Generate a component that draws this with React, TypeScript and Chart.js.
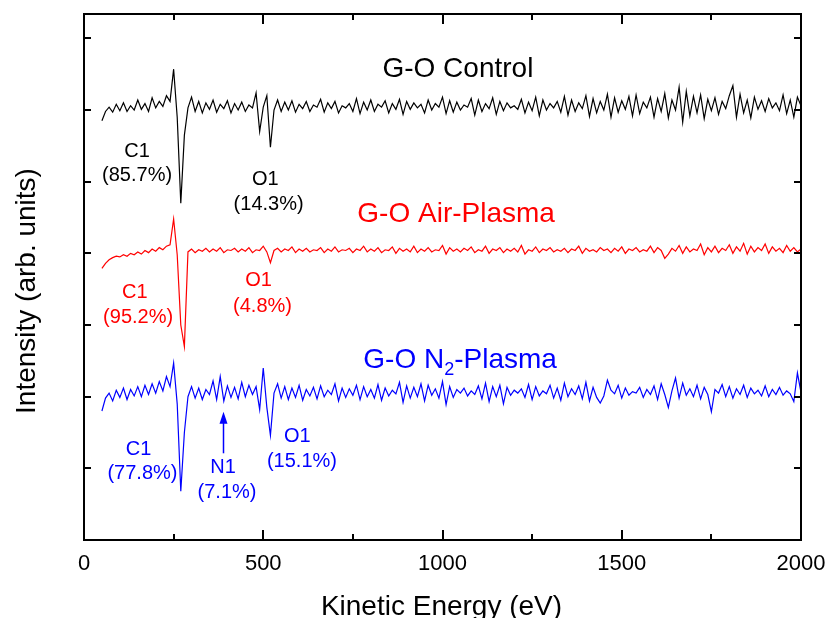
import React, { useEffect, useRef } from "react";
import { Chart, registerables } from "chart.js";

Chart.register(...registerables);

// Kinetic energy grid (eV): 50 .. 2000, 10 eV step
const energyStart = 50;
const energyStep = 10;

// G-O Control (offset baseline ~600)
const controlValues: number[] = [
  585, 598, 604, 597, 608, 599, 610, 598, 606, 600,
  614, 601, 609, 598, 617, 603, 612, 605, 620, 612,
  657, 590, 470, 565, 603, 618, 598, 612, 596, 610,
  601, 614, 597, 608, 602, 613, 596, 609, 600, 611,
  598, 607, 603, 624, 570, 604, 620, 548, 600, 614,
  598, 611, 600, 613, 597, 608, 602, 612, 598, 607,
  604, 615, 597, 610, 602, 612, 596, 606, 603, 609,
  598, 616, 595, 611, 600, 614, 598, 608, 604, 613,
  596, 609, 601, 615, 594, 612, 601, 610, 603, 608,
  596, 614, 600, 609, 604, 618, 595, 613, 597, 611,
  600, 607, 604, 616, 593, 614, 598, 609, 602, 617,
  594, 612, 599, 610, 603, 606, 601, 615, 596, 611,
  599, 618, 592, 614, 600, 609, 603, 612, 597, 619,
  593, 614, 598, 610, 602, 620, 591, 616, 596, 612,
  600, 622, 590, 617, 597, 613, 601, 619, 592, 621,
  595, 611, 603, 618, 590, 616, 598, 623, 589, 614,
  600, 632, 583, 626, 592, 619, 596, 621, 588, 615,
  599, 617, 594, 612, 602, 620, 634, 590, 622, 596,
  614, 589, 618, 601, 613, 598, 616, 603, 610, 599,
  621, 595, 614, 590, 618, 606,
];

// G-O Air-Plasma (offset baseline ~400)
const airValues: number[] = [
  379, 386, 391, 394, 396, 395, 398, 396, 400, 398,
  402, 399, 404, 401, 406, 403, 408, 405, 410, 412,
  448, 398, 300, 270, 402, 406, 401, 405, 403, 407,
  402, 406, 403, 408, 401, 405, 404, 407, 402, 406,
  403, 408, 401, 405, 404, 410, 402, 387, 404, 407,
  402, 406, 404, 409, 401, 406, 403, 407, 402, 405,
  404, 408, 401, 406, 403, 409, 402, 405, 404, 407,
  401, 406, 404, 410, 402, 406, 403, 408, 401, 405,
  404, 409, 400, 407, 403, 406, 402, 410, 401, 406,
  403, 408, 402, 405, 404, 411, 399, 408, 403, 406,
  402, 407, 404, 409, 401, 405, 403, 410, 400, 406,
  404, 408, 401, 406, 403, 407, 402, 411, 399, 405,
  403, 409, 401, 406, 404, 408, 402, 405, 403, 407,
  401, 406, 404, 410, 400, 407, 403, 405, 402, 408,
  404, 406, 401, 407, 403, 409, 400, 406, 404, 408,
  402, 405, 403, 410, 401, 408, 404, 393, 399, 407,
  403, 411, 400, 409, 402, 406, 404, 413, 398, 408,
  402, 410, 401, 407, 404, 412, 400, 409, 403, 414,
  399, 410, 402, 408, 404, 413, 400, 409, 403, 407,
  401, 411, 403, 408, 402, 406,
];

// G-O N2-Plasma (offset baseline ~200)
const n2Values: number[] = [
  180, 198, 205, 194, 209, 199, 212, 196, 210, 201,
  214, 200, 216, 203, 218, 205, 221, 208, 228, 214,
  247, 190, 68, 150, 200, 214, 198, 212, 196, 210,
  203, 222, 196, 228, 194, 215, 199, 213, 197, 220,
  200, 216, 203, 214, 182, 240, 185, 146, 205, 218,
  198, 214, 196, 212, 199, 216, 195, 210, 201, 213,
  197, 215, 200, 209, 203, 218, 194, 212, 199, 211,
  202, 216, 196, 214, 200, 210, 198, 217, 195, 212,
  201, 209, 204, 220, 192, 215, 198, 213, 200, 218,
  194, 216, 202, 211, 198, 221, 189, 214, 199, 210,
  205, 212, 201, 208, 203, 215, 197, 219, 193, 214,
  200, 216, 190, 213, 202, 209, 205, 211, 199, 217,
  196, 214, 201, 208, 204, 216, 198, 212, 195, 219,
  200, 211, 203, 215, 197, 220, 194, 213, 199, 191,
  201, 223, 209, 204, 216, 198, 212, 202, 207, 205,
  213, 199, 210, 203, 215, 196, 218, 203, 185, 208,
  226, 198, 219, 202, 211, 200, 216, 197, 213, 203,
  179, 210, 205, 217, 200, 214, 198, 211, 203, 216,
  199, 212, 204, 209, 201, 215, 200, 210, 203, 213,
  202, 208, 204, 193, 233, 206,
];

const xMajorTicks = [0, 500, 1000, 1500, 2000];
const xMinorTicks = [250, 750, 1250, 1750];
const xTickLabels = ["0", "500", "1000", "1500", "2000"];
const yTicks = [100, 200, 300, 400, 500, 600, 700];

const xTitle = "Kinetic Energy (eV)";
const yTitle = "Intensity (arb. units)";

const BLACK = "#000000";
const RED = "#ff0000";
const BLUE = "#0000ff";

type Note = { text: string; x: number; y: number; color: string };
// peak labels (data coordinates: eV, intensity)
const notes: Note[] = [
  { text: "C1", x: 148, y: 534, color: BLACK },
  { text: "(85.7%)", x: 148, y: 501, color: BLACK },
  { text: "O1", x: 506, y: 495, color: BLACK },
  { text: "(14.3%)", x: 515, y: 460, color: BLACK },
  { text: "C1", x: 142, y: 338, color: RED },
  { text: "(95.2%)", x: 151, y: 303, color: RED },
  { text: "O1", x: 487, y: 354, color: RED },
  { text: "(4.8%)", x: 498, y: 318, color: RED },
  { text: "C1", x: 152, y: 119, color: BLUE },
  { text: "(77.8%)", x: 163, y: 85, color: BLUE },
  { text: "N1", x: 388, y: 93, color: BLUE },
  { text: "(7.1%)", x: 399, y: 59, color: BLUE },
  { text: "O1", x: 595, y: 137, color: BLUE },
  { text: "(15.1%)", x: 608, y: 102, color: BLUE },
];
// series titles
const titleControl = { x: 1043, y: 646 };
const titleAir = { x: 1038, y: 444 };
const titleN2 = { x: 1049, y: 240 };
// N1 arrow (eV, from intensity -> to intensity)
const arrowN1 = { x: 387, from: 121, to: 179 };

const FONT = "Arial, 'Liberation Sans', sans-serif";

function toPoints(values: number[]) {
  return values.map((v, i) => ({ x: energyStart + i * energyStep, y: v }));
}

const framePlugin = {
  id: "framePlugin",
  afterDraw(chart: any) {
    const { ctx, chartArea: a, scales } = chart;
    const xs = scales.x;
    const ys = scales.y;
    ctx.save();
    // frame
    ctx.strokeStyle = "#000";
    ctx.lineWidth = 2;
    ctx.strokeRect(a.left, a.top, a.right - a.left, a.bottom - a.top);
    // ticks
    ctx.beginPath();
    for (const v of xMajorTicks) {
      const p = Math.round(xs.getPixelForValue(v));
      ctx.moveTo(p, a.bottom);
      ctx.lineTo(p, a.bottom - 10);
      ctx.moveTo(p, a.top);
      ctx.lineTo(p, a.top + 10);
    }
    for (const v of xMinorTicks) {
      const p = Math.round(xs.getPixelForValue(v));
      ctx.moveTo(p, a.bottom);
      ctx.lineTo(p, a.bottom - 6);
      ctx.moveTo(p, a.top);
      ctx.lineTo(p, a.top + 6);
    }
    for (const v of yTicks) {
      const p = Math.round(ys.getPixelForValue(v));
      ctx.moveTo(a.left, p);
      ctx.lineTo(a.left + 7, p);
      ctx.moveTo(a.right, p);
      ctx.lineTo(a.right - 7, p);
    }
    ctx.stroke();

    // x tick labels
    ctx.fillStyle = "#000";
    ctx.font = `22px ${FONT}`;
    ctx.textAlign = "center";
    ctx.textBaseline = "alphabetic";
    xMajorTicks.forEach((v, i) => {
      ctx.fillText(xTickLabels[i], xs.getPixelForValue(v), a.bottom + 30);
    });
    // axis titles
    ctx.font = `28px ${FONT}`;
    ctx.fillText(xTitle, (a.left + a.right) / 2 - 1, a.bottom + 75);
    ctx.save();
    ctx.translate(35, 291);
    ctx.rotate(-Math.PI / 2);
    ctx.fillText(yTitle, 0, 0);
    ctx.restore();

    // peak notes
    ctx.font = `20px ${FONT}`;
    for (const n of notes) {
      ctx.fillStyle = n.color;
      ctx.fillText(n.text, xs.getPixelForValue(n.x), ys.getPixelForValue(n.y));
    }

    // series titles
    ctx.font = `28px ${FONT}`;
    ctx.fillStyle = BLACK;
    ctx.fillText("G-O Control", xs.getPixelForValue(titleControl.x), ys.getPixelForValue(titleControl.y));
    ctx.fillStyle = RED;
    ctx.fillText("G-O Air-Plasma", xs.getPixelForValue(titleAir.x), ys.getPixelForValue(titleAir.y));
    // N2 with subscript
    {
      const p1 = "G-O N";
      const sub = "2";
      const p2 = "-Plasma";
      ctx.font = `28px ${FONT}`;
      const w1 = ctx.measureText(p1).width;
      const w3 = ctx.measureText(p2).width;
      ctx.font = `18px ${FONT}`;
      const w2 = ctx.measureText(sub).width;
      const total = w1 + w2 + w3;
      const cx = xs.getPixelForValue(titleN2.x);
      const by = ys.getPixelForValue(titleN2.y);
      let x0 = cx - total / 2;
      ctx.fillStyle = BLUE;
      ctx.textAlign = "left";
      ctx.font = `28px ${FONT}`;
      ctx.fillText(p1, x0, by);
      x0 += w1;
      ctx.font = `18px ${FONT}`;
      ctx.fillText(sub, x0, by + 7);
      x0 += w2;
      ctx.font = `28px ${FONT}`;
      ctx.fillText(p2, x0, by);
    }

    // N1 arrow
    {
      const ax = Math.round(xs.getPixelForValue(arrowN1.x)) + 0.5;
      const y0 = ys.getPixelForValue(arrowN1.from);
      const y1 = ys.getPixelForValue(arrowN1.to);
      ctx.strokeStyle = BLUE;
      ctx.fillStyle = BLUE;
      ctx.lineWidth = 1.5;
      ctx.beginPath();
      ctx.moveTo(ax, y0);
      ctx.lineTo(ax, y1 + 10);
      ctx.stroke();
      ctx.beginPath();
      ctx.moveTo(ax, y1);
      ctx.lineTo(ax - 4, y1 + 12);
      ctx.lineTo(ax + 4, y1 + 12);
      ctx.closePath();
      ctx.fill();
    }
    ctx.restore();
  },
};

export default function App() {
  const canvasRef = useRef<HTMLCanvasElement | null>(null);

  useEffect(() => {
    document.body.style.margin = "0";
    document.body.style.overflow = "hidden";
    const canvas = canvasRef.current;
    if (!canvas) return;
    const chart = new Chart(canvas, {
      type: "line",
      data: {
        datasets: [
          {
            label: "G-O Control",
            data: toPoints(controlValues),
            borderColor: BLACK,
            borderWidth: 1.2,
            pointRadius: 0,
            tension: 0,
          },
          {
            label: "G-O Air-Plasma",
            data: toPoints(airValues),
            borderColor: RED,
            borderWidth: 1.2,
            pointRadius: 0,
            tension: 0,
          },
          {
            label: "G-O N2-Plasma",
            data: toPoints(n2Values),
            borderColor: BLUE,
            borderWidth: 1.2,
            pointRadius: 0,
            tension: 0,
          },
        ],
      },
      options: {
        responsive: false,
        maintainAspectRatio: false,
        devicePixelRatio: 1,
        animation: false,
        layout: { padding: { left: 84, top: 14, right: 28, bottom: 78 } },
        plugins: { legend: { display: false }, tooltip: { enabled: false } },
        scales: {
          x: { type: "linear", min: 0, max: 2000, display: false },
          y: { type: "linear", min: 0, max: 734, display: false },
        },
      },
      plugins: [framePlugin],
    });
    return () => chart.destroy();
  }, []);

  return (
    <div style={{ width: 829, height: 618, background: "#fff" }}>
      <canvas ref={canvasRef} width={829} height={618} style={{ display: "block" }} />
    </div>
  );
}
